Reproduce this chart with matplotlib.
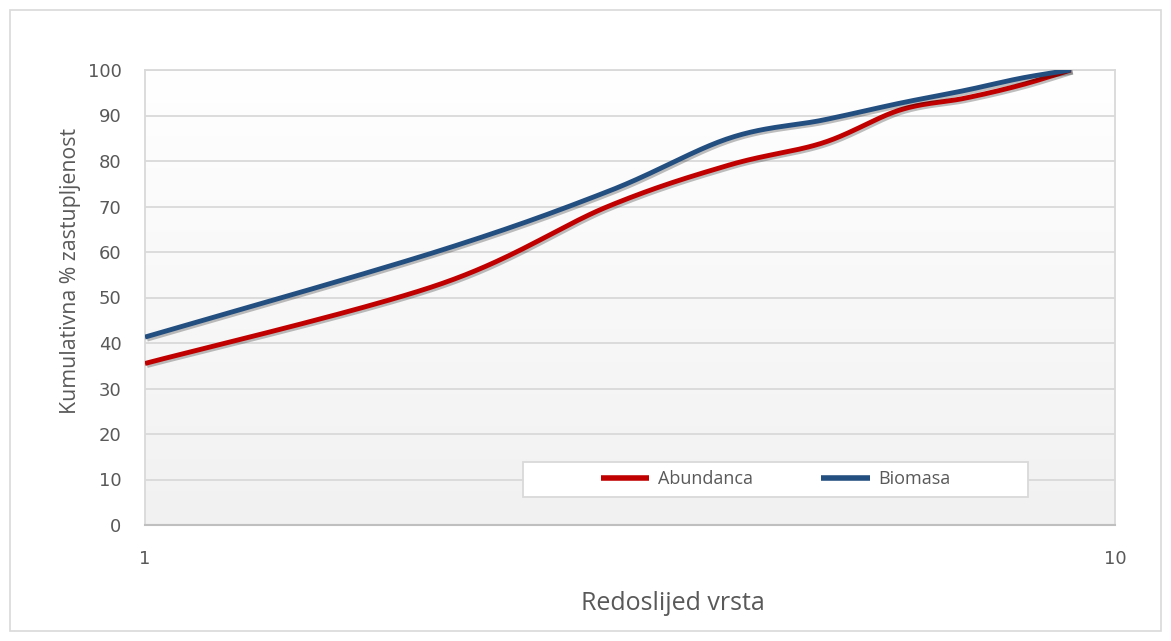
import numpy as np
import matplotlib
matplotlib.use('Agg')
import matplotlib.pyplot as plt
import matplotlib.patheffects as pe
from matplotlib.patches import Rectangle
from matplotlib import ticker

# rank of species and cumulative %
rang = [1, 2, 3, 4, 5, 6, 7, 8, 9]
abundanca = [35.5, 52.7, 70.0, 79.1, 84.0, 91.2, 93.8, 96.7, 100.0]
biomasa = [41.3, 60.1, 73.3, 85.0, 89.0, 92.7, 95.5, 98.2, 100.0]
serije = ['Abundanca', 'Biomasa']
boje = ['#C00000', '#234E80']
yticks = np.arange(0, 101, 10)

txt = '#595959'
font = ['Open Sans', 'DejaVu Sans']


def smooth(x, y, n=40):
    # Excel-like smoothed line: Bezier/Catmull-Rom through points in (log x, y)
    lx = np.log10(np.asarray(x, float))
    y = np.asarray(y, float)
    P = np.column_stack([lx, y])
    P = np.vstack([P[0], P, P[-1]])
    out = []
    t = np.linspace(0, 1, n)[:, None]
    for i in range(1, len(P) - 2):
        p0, p1, p2, p3 = P[i - 1], P[i], P[i + 1], P[i + 2]
        c1 = p1 + (p2 - p0) / 6
        c2 = p2 - (p3 - p1) / 6
        seg = ((1 - t) ** 3) * p1 + 3 * ((1 - t) ** 2) * t * c1 + 3 * (1 - t) * t ** 2 * c2 + t ** 3 * p2
        out.append(seg if i == 1 else seg[1:])
    out = np.vstack(out)
    return 10 ** out[:, 0], out[:, 1]


fig = plt.figure(figsize=(11.71, 6.41), dpi=100)
fig.patches.append(Rectangle((10 / 1171, 10 / 641), 1151 / 1171, 621 / 641,
                             transform=fig.transFigure, facecolor='white',
                             edgecolor='#d9d9d9', lw=1.2, zorder=-10))
ax = fig.add_axes([145 / 1171, 1 - 525 / 641, 970 / 1171, 455 / 641])
ax.set_facecolor('none')

# gradient background of the plot area
grad = np.linspace(1.0, 0.945, 256).reshape(-1, 1)
ax.imshow(np.dstack([grad, grad, grad]), extent=[0, 1, 0, 1], transform=ax.transAxes,
          aspect='auto', zorder=0)

for y in yticks[1:]:
    ax.axhline(y, color='#d9d9d9', lw=1.3, zorder=1)

for vals, name, c in zip([abundanca, biomasa], serije, boje):
    xs, ys = smooth(rang, vals)
    ax.plot(xs, ys, color=c, lw=3.5, label=name, zorder=3, solid_capstyle='butt',
            path_effects=[pe.SimpleLineShadow(offset=(1.5, -1.5), alpha=0.25, shadow_color='k'),
                          pe.Normal()])

ax.set_xscale('log')
ax.set_xlim(1, 10)
ax.set_ylim(0, 100)
ax.set_xticks([1, 10])
ax.xaxis.set_major_formatter(ticker.FuncFormatter(lambda v, p: '%d' % v))
ax.xaxis.set_minor_locator(ticker.NullLocator())
ax.set_yticks(yticks)
ax.tick_params(axis='both', length=0, labelsize=13, labelcolor=txt)
ax.tick_params(axis='y', pad=17)
ax.tick_params(axis='x', pad=18)

for s in ['left', 'right', 'top']:
    ax.spines[s].set_color('#d9d9d9')
    ax.spines[s].set_linewidth(1.3)
ax.spines['bottom'].set_color('#bfbfbf')
ax.spines['bottom'].set_linewidth(1.5)

fig.text(71 / 1171, 1 - 271 / 641, 'Kumulativna % zastupljenost', rotation=90,
         ha='center', va='center', fontsize=15.3, color=txt, family=font)
fig.text(673 / 1171, 1 - 604 / 641, 'Redoslijed vrsta', ha='center', va='center',
         fontsize=18, color=txt, family=font)

# legend box
x0, x1 = (523 - 145) / 970, (1028 - 145) / 970
y0, y1 = (525 - 497) / 455, (525 - 462) / 455
ax.add_patch(Rectangle((x0, y0), x1 - x0, y1 - y0, transform=ax.transAxes,
                       facecolor='white', edgecolor='#d9d9d9', lw=1.3, zorder=4))
leg = ax.legend(loc='center', bbox_to_anchor=((x0 + x1) / 2, (y0 + y1) / 2), ncol=2,
                frameon=False, prop={'family': font, 'size': 13}, handlelength=2.7,
                handletextpad=0.45, columnspacing=3.8, labelcolor=txt)
leg.set_zorder(5)
for h in leg.get_lines():
    h.set_linewidth(4)
    h.set_path_effects([])

fig.savefig('out.png', dpi=100)
